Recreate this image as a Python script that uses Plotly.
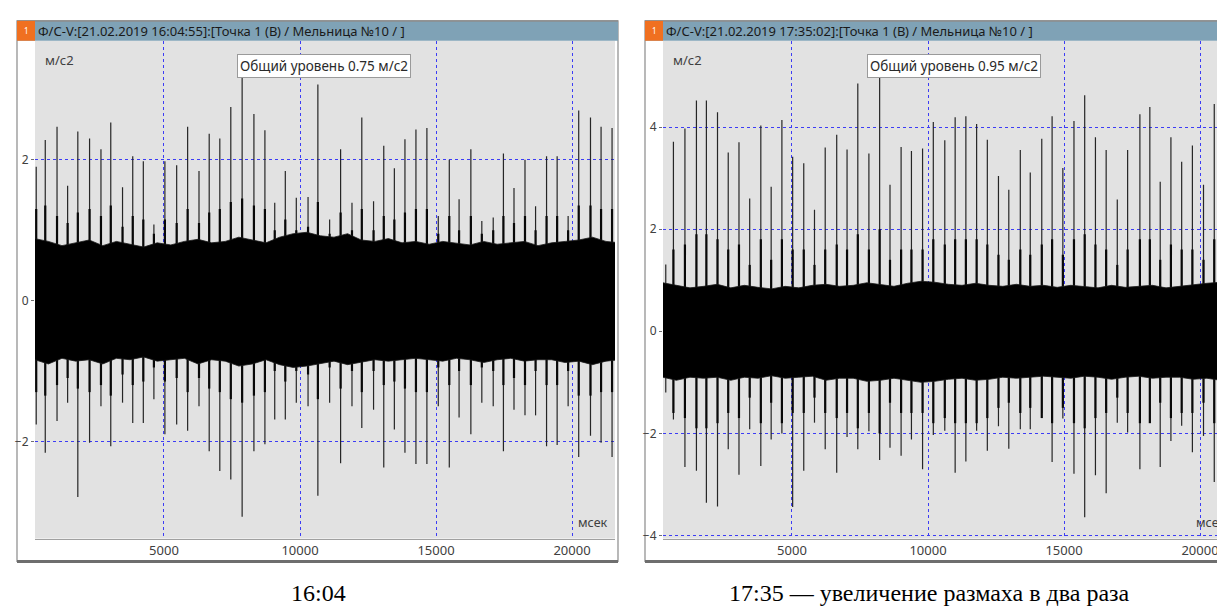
import plotly.graph_objects as go

W, H = 1225, 606

# ---------------- data: left panel (16:04:55) ----------------
left_spike_ms = [303, 635, 1068, 1457, 1832, 2264, 2683, 3043, 3476, 3851, 4240, 4629, 5033, 5466,
                 5869, 6287, 6662, 7052, 7456, 7873, 8306, 8710, 9071, 9460, 9864, 10296, 10657,
                 11089, 11493, 11911, 12272, 12704, 13079, 13469, 13858, 14262, 14665, 15083, 15488,
                 15848, 16281, 16684, 17103, 17478, 17867, 18271, 18660, 19064, 19453, 19857, 20246,
                 20679, 21068, 21472]
left_spike_top = [1.9, 2.28, 2.47, 1.63, 2.4, 2.3, 2.15, 2.53, 1.61, 2.05, 1.98, 1.08, 1.98, 1.92,
                  2.47, 1.84, 2.37, 2.3, 2.75, 3.28, 2.65, 2.42, 1.39, 1.84, 1.46, 1.47, 3.07,
                  1.15, 2.15, 1.39, 2.6, 1.41, 2.2, 1.88, 2.29, 2.43, 2.45, 1.2, 2.0,
                  1.44, 2.15, 1.13, 1.18, 2.09, 1.6, 2.0, 1.34, 2.05, 2.05, 1.2, 2.7,
                  2.6, 2.47, 2.45]
left_spike_bottom = [-1.76, -2.16, -1.71, -1.45, -2.79, -2.02, -1.5, -2.07, -1.45, -1.74, -1.74, -1.4, -1.9, -1.76,
                     -1.85, -1.5, -2.14, -2.42, -2.54, -3.07, -2.14, -2.04, -1.69, -1.69, -1.45, -1.5, -2.77,
                     -1.45, -2.31, -1.5, -1.81, -1.55, -2.37, -1.83, -2.16, -2.32, -2.32, -1.5, -2.37,
                     -1.66, -1.9, -1.45, -1.5, -2.14, -1.55, -1.63, -1.63, -2.07, -2.05, -1.5, -2.22,
                     -1.92, -2.02, -2.22]
left_burst = [1.3, 1.35, 1.2, 1.1, 1.25, 1.3, 1.2, 1.35, 1.05, 1.2, 1.15, 0.95, 1.15, 1.1,
              1.3, 1.1, 1.25, 1.3, 1.4, 1.45, 1.35, 1.3, 1.0, 1.15, 1.0, 1.05, 1.4,
              0.95, 1.25, 1.0, 1.3, 1.0, 1.2, 1.15, 1.25, 1.3, 1.3, 0.95, 1.2,
              1.0, 1.2, 0.95, 1.0, 1.2, 1.1, 1.2, 1.0, 1.2, 1.2, 1.0, 1.35,
              1.35, 1.3, 1.3]
left_env_ms = [250, 750, 1250, 1750, 2250, 2750, 3250, 3750, 4250, 4750, 5250, 5750, 6250, 6750,
               7250, 7750, 8250, 8750, 9250, 9750, 10250, 10750, 11250, 11750, 12250, 12750, 13250,
               13750, 14250, 14750, 15250, 15750, 16250, 16750, 17250, 17750, 18250, 18750, 19250,
               19750, 20250, 20750, 21250, 21750]
left_env_upper = [0.88, 0.84, 0.78, 0.82, 0.86, 0.78, 0.84, 0.8, 0.76, 0.82, 0.79, 0.84, 0.87, 0.82,
                  0.84, 0.9, 0.86, 0.82, 0.9, 0.95, 0.97, 0.92, 0.9, 0.95, 0.86, 0.84, 0.88,
                  0.82, 0.84, 0.8, 0.84, 0.82, 0.79, 0.84, 0.8, 0.82, 0.84, 0.78, 0.82,
                  0.84, 0.86, 0.9, 0.84, 0.82]
left_env_lower = [-0.84, -0.9, -0.82, -0.86, -0.84, -0.9, -0.82, -0.84, -0.8, -0.86, -0.84, -0.82, -0.9, -0.84,
                  -0.86, -0.93, -0.9, -0.84, -0.91, -0.95, -0.93, -0.9, -0.86, -0.91, -0.88, -0.84, -0.86,
                  -0.84, -0.82, -0.84, -0.86, -0.82, -0.84, -0.88, -0.84, -0.82, -0.86, -0.84, -0.84,
                  -0.88, -0.86, -0.91, -0.86, -0.84]

# ---------------- data: right panel (17:35:02) ----------------
right_spike_ms = [360, 641, 1064, 1487, 1853, 2262, 2656, 3051, 3445, 3854, 4234, 4629, 5024, 5432,
                  5827, 6221, 6644, 7024, 7419, 7827, 8222, 8603, 9011, 9391, 9800, 10195, 10617,
                  10998, 11392, 11787, 12181, 12590, 12970, 13393, 13759, 14182, 14562, 14957, 15366,
                  15760, 16155, 16549, 16958, 17338, 17789, 18155, 18536, 18930, 19325, 19719, 20128,
                  20523, 20945]
right_spike_top = [1.31, 3.71, 3.97, 4.52, 4.52, 4.29, 3.5, 3.7, 2.6, 4.03, 2.83, 4.14, 3.42, 3.29,
                   2.38, 3.6, 3.85, 3.56, 4.85, 3.48, 5.1, 2.87, 3.61, 3.53, 3.58, 4.1, 3.74,
                   4.19, 4.21, 4.06, 3.75, 3.04, 2.77, 3.55, 3.11, 3.77, 4.21, 3.2, 4.12,
                   4.62, 3.8, 3.55, 2.58, 3.55, 4.25, 4.39, 2.93, 3.8, 3.32, 3.64, 2.87,
                   4.45, 3.75]
right_spike_bottom = [-1.2, -1.73, -2.66, -2.73, -3.36, -3.43, -2.31, -2.81, -1.92, -2.64, -2.12, -2.0, -3.44, -2.73,
                      -1.79, -2.31, -2.77, -2.07, -2.31, -1.96, -2.52, -2.28, -2.44, -2.12, -2.7, -2.03, -1.95,
                      -2.77, -2.55, -1.95, -2.34, -1.86, -2.3, -1.92, -1.92, -1.6, -2.56, -1.71, -2.79,
                      -3.64, -2.82, -3.17, -1.79, -1.98, -2.7, -1.79, -2.66, -2.15, -1.85, -2.37, -2.05,
                      -2.95, -2.44]
right_burst = [0.9, 1.6, 1.7, 1.9, 1.9, 1.8, 1.6, 1.7, 1.3, 1.8, 1.4, 1.8, 1.6, 1.6,
               1.3, 1.6, 1.7, 1.6, 1.9, 1.6, 2.0, 1.4, 1.6, 1.6, 1.6, 1.8, 1.7,
               1.8, 1.8, 1.8, 1.7, 1.5, 1.4, 1.6, 1.5, 1.7, 1.8, 1.5, 1.8,
               1.9, 1.7, 1.6, 1.3, 1.6, 1.8, 1.8, 1.4, 1.7, 1.6, 1.6, 1.4,
               1.8, 1.7]
right_env_ms = [250, 750, 1250, 1750, 2250, 2750, 3250, 3750, 4250, 4750, 5250, 5750, 6250, 6750,
                7250, 7750, 8250, 8750, 9250, 9750, 10250, 10750, 11250, 11750, 12250, 12750, 13250,
                13750, 14250, 14750, 15250, 15750, 16250, 16750, 17250, 17750, 18250, 18750, 19250,
                19750, 20250, 20750, 21250, 21750]
right_env_upper = [0.95, 0.9, 0.85, 0.88, 0.92, 0.85, 0.9, 0.86, 0.83, 0.88, 0.85, 0.9, 0.92, 0.88,
                   0.9, 0.95, 0.92, 0.88, 0.94, 0.98, 0.96, 0.92, 0.9, 0.94, 0.9, 0.88, 0.92,
                   0.88, 0.9, 0.86, 0.9, 0.88, 0.85, 0.9, 0.86, 0.88, 0.9, 0.85, 0.88,
                   0.92, 0.94, 0.96, 0.92, 0.9]
right_env_lower = [-0.9, -0.96, -0.9, -0.92, -0.9, -0.96, -0.9, -0.92, -0.87, -0.92, -0.9, -0.88, -0.96, -0.92,
                   -0.92, -0.98, -0.96, -0.92, -0.96, -1.0, -0.98, -0.94, -0.92, -0.96, -0.94, -0.9, -0.92,
                   -0.9, -0.88, -0.9, -0.92, -0.88, -0.9, -0.94, -0.9, -0.88, -0.92, -0.9, -0.9,
                   -0.94, -0.92, -0.96, -0.92, -0.9]

left_title = "Ф/С-V:[21.02.2019 16:04:55]:[Точка 1 (В) / Мельница №10 / ]"
right_title = "Ф/С-V:[21.02.2019 17:35:02]:[Точка 1 (В) / Мельница №10 / ]"
left_level = "Общий уровень 0.75 м/с2"
right_level = "Общий уровень 0.95 м/с2"
left_caption = "16:04"
right_caption = "17:35 — увеличение размаха в два раза"
x_ticks = [5000, 10000, 15000, 20000]
x_tick_text = ["5000", "10000", "15000", "20000"]
left_y_ticks = [-2, 0, 2]
right_y_ticks = [-4, -2, 0, 2, 4]

FONT = "Noto Sans"
GRID = "rgb(60,60,245)"


def px(x):
    return x / W


def py(y):
    return 1 - y / H


def segs(xs, lo, hi):
    X, Y = [], []
    for x, a, b in zip(xs, lo, hi):
        X += [x, x, None]
        Y += [a, b, None]
    return X, Y


fig = go.Figure()


def band(xa, ya, xs, up, lowr, color):
    fig.add_trace(go.Scatter(x=xs + xs[::-1], y=up + lowr[::-1], fill="toself", fillcolor=color,
                             line=dict(width=0.8, color="#1a1a1a"), mode="lines", xaxis=xa, yaxis=ya,
                             hoverinfo="skip", showlegend=False))


def add_panel(xa, ya, env_ms, up, lowr, sms, top, bot, burst):
    sx, sy = segs(sms, bot, top)
    fig.add_trace(go.Scatter(x=sx, y=sy, mode="lines", line=dict(width=1.2, color="#262626"),
                             xaxis=xa, yaxis=ya, hoverinfo="skip", showlegend=False))
    bx, by = segs(sms, [-b for b in burst], burst)
    fig.add_trace(go.Scatter(x=bx, y=by, mode="lines", line=dict(width=2.2, color="#080808"),
                             xaxis=xa, yaxis=ya, hoverinfo="skip", showlegend=False))
    band(xa, ya, env_ms, up, lowr, "#000000")


add_panel("x", "y", left_env_ms, left_env_upper, left_env_lower,
          left_spike_ms, left_spike_top, left_spike_bottom, left_burst)
add_panel("x2", "y2", right_env_ms, right_env_upper, right_env_lower,
          right_spike_ms, right_spike_top, right_spike_bottom, right_burst)

ydom = [py(535), py(33)]
common_x = dict(tickvals=x_ticks, ticktext=x_tick_text, showgrid=True, gridcolor=GRID, griddash="dot",
                gridwidth=1, zeroline=False, showline=True, linecolor="#a0a0a0", linewidth=1, ticks="",
                tickfont=dict(family=FONT, size=13, color="#404040"), fixedrange=True)
common_y = dict(showgrid=True, gridcolor=GRID, griddash="dot", gridwidth=1.4, zeroline=False,
                showline=False, ticks="outside", ticklen=3, tickcolor="#707070",
                tickfont=dict(family=FONT, size=12, color="#404040"), fixedrange=True)

shapes = []
annotations = []


def note(text, x, y, xanchor="left", **kw):
    d = dict(text=text, x=px(x), y=py(y), xref="paper", yref="paper", xanchor=xanchor,
             yanchor="middle", showarrow=False)
    d.update(kw)
    annotations.append(d)


def frame(x0, x1, plot_left, title, level, box_cx, caption, cap_cx, msec_x):
    shapes.append(dict(type="rect", xref="paper", yref="paper", x0=px(x0), x1=px(x1),
                       y0=py(558), y1=py(13), line=dict(color="#8a8a8a", width=1.2),
                       fillcolor="rgba(0,0,0,0)", layer="below"))
    shapes.append(dict(type="line", xref="paper", yref="paper", x0=px(x0), x1=px(x1),
                       y0=py(558), y1=py(558), line=dict(color="#6e6e6e", width=3)))
    shapes.append(dict(type="rect", xref="paper", yref="paper", x0=px(x0), x1=px(x1),
                       y0=py(33), y1=py(13), line=dict(width=0), fillcolor="#7fa2b6"))
    shapes.append(dict(type="line", xref="paper", yref="paper", x0=px(x0), x1=px(x1),
                       y0=py(13), y1=py(13), line=dict(color="#8c8c8c", width=1.5)))
    shapes.append(dict(type="rect", xref="paper", yref="paper", x0=px(x0), x1=px(plot_left),
                       y0=py(33), y1=py(13), line=dict(width=0), fillcolor="#f07020"))
    note("1", (x0 + plot_left) / 2, 23, xanchor="center",
         font=dict(family=FONT, size=8, color="#ffffff"))
    note(title, plot_left + 1, 23, font=dict(family=FONT, size=13, color="#1a1a1a"))
    note("м/с2", plot_left + 8, 52, font=dict(family=FONT, size=13, color="#404040"))
    note(level, box_cx, 58, xanchor="center", bgcolor="#ffffff", bordercolor="#9a9a9a",
         borderwidth=1, borderpad=2, font=dict(family=FONT, size=13.5, color="#2a2a2a"))
    note("мсек", msec_x, 519, font=dict(family=FONT, size=12.5, color="#404040"))
    note(caption, cap_cx, 590, xanchor="center",
         font=dict(family="Liberation Serif", size=24, color="#000000"))


frame(9, 610, 27, left_title, left_level, 316, left_caption, 310, 568)
frame(637, 1240, 655, right_title, right_level, 946, right_caption, 921, 1186)

fig.update_layout(
    width=W, height=H, autosize=False,
    margin=dict(l=0, r=0, t=0, b=0),
    paper_bgcolor="#ffffff", plot_bgcolor="#e2e2e2",
    showlegend=False,
    xaxis=dict(domain=[px(27), px(607)], range=[258, 21580], anchor="y", **common_x),
    yaxis=dict(domain=ydom, range=[-3.38, 3.69], tickvals=left_y_ticks, anchor="x", **common_y),
    xaxis2=dict(domain=[px(655), 1.0], range=[258, 21212], anchor="y2", **common_x),
    yaxis2=dict(domain=ydom, range=[-4.06, 5.69], tickvals=right_y_ticks, anchor="x2", **common_y),
    shapes=shapes,
    annotations=annotations,
)

fig.write_html("out.html", config={"displayModeBar": False})
